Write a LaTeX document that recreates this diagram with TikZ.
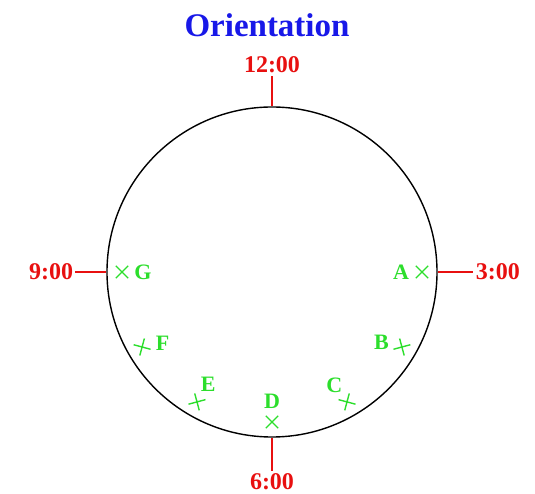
\documentclass[tikz,border=0pt]{standalone}
\usepackage{fontspec}
\setmainfont{Liberation Serif}
\usetikzlibrary{positioning,shapes.misc}
\definecolor{hourred}{RGB}{232,16,16}
\definecolor{markgreen}{RGB}{44,222,44}
\definecolor{titleblue}{RGB}{24,24,232}
\tikzset{
  clock outline/.style={draw=black,line width=1.4bp,circle,minimum size=330bp,inner sep=0pt},
  hour tick/.style={draw=hourred,line width=2bp},
  hour label/.style={text=hourred,font=\fontsize{24bp}{26bp}\selectfont\bfseries,inner sep=0pt},
  pos mark/.style={draw=markgreen,line width=1.4bp,cross out,minimum size=11bp,inner sep=0pt},
  pos label/.style={text=markgreen,font=\fontsize{22bp}{24bp}\selectfont\bfseries,inner sep=0pt},
  title label/.style={text=titleblue,font=\fontsize{33bp}{36bp}\selectfont\bfseries}
}

\begin{document}
\begin{tikzpicture}[x=1bp,y=1bp]
        \useasboundingbox (-272,-222) rectangle (263,272);
        \node[title label] (title) at (-5,247) {Orientation};

        \node[clock outline] (clock) at (0,0) {};

        \node[hour label,above=33bp of clock.north] (noon) {12:00};
        \node[hour label,below=36bp of clock.south] (six) {6:00};
        \node[hour label,left=33bp of clock.west] (nine) {9:00};
        \node[hour label,right=38bp of clock.east] (three) {3:00};
        \draw[hour tick] (clock.north) -- ([yshift=-3bp]noon.south);
        \draw[hour tick] (clock.south) -- ([yshift=3bp]six.north);
        \draw[hour tick] (clock.west) -- ([xshift=2bp]nine.east);
        \draw[hour tick] (clock.east) -- ([xshift=-3bp]three.west);

        \foreach \name/\ang/\dir in {A/0/180,B/-30/166,C/-60/127,D/-90/90,E/-120/58,F/-150/11,G/180/0}{
          \node[pos mark,rotate=\ang] (m\name) at (\ang:150) {};
          \node[pos label] (l\name) at ([shift={(\dir:21)}]m\name.center) {\name};
        }
      \end{tikzpicture}
\end{document}
